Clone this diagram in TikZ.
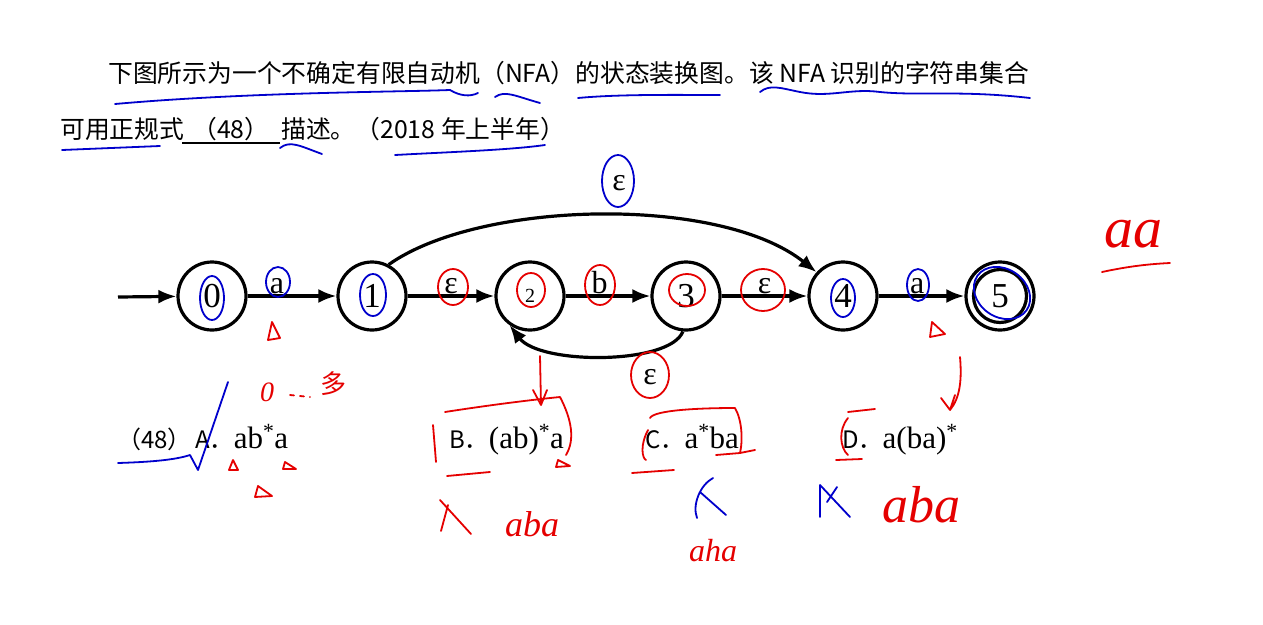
\documentclass[tikz,border=0pt]{standalone}
\usepackage{fontspec}
\setmainfont{Liberation Sans}
\newfontfamily\cjk{Noto Sans CJK SC}
\newfontfamily\serif{Liberation Serif}
\usetikzlibrary{arrows.meta}

\tikzset{
  state/.style={circle,draw,line width=3.2pt,minimum size=68pt,inner sep=0pt,
    font=\serif\fontsize{35}{35}\selectfont},
  edge/.style={line width=3.2pt,-{Latex[length=18pt,width=14pt]}},
  lab/.style={font=\serif\fontsize{32}{32}\selectfont,inner sep=1pt},
  qtext/.style={anchor=base west,inner sep=0pt,font=\cjk\fontsize{24.8}{24.8}\selectfont},
  opt/.style={anchor=base west,inner sep=0pt,font=\cjk\fontsize{24}{24}\selectfont},
  blueink/.style={blue!80!black,line width=1.8pt,line cap=round,line join=round},
  redink/.style={red!90!black,line width=1.8pt,line cap=round,line join=round},
  hand/.style={text=red!90!black,inner sep=0pt,font=\serif\itshape\fontsize{#1}{#1}\selectfont},
}
\newcommand\regex[1]{{\serif\fontsize{31}{31}\selectfont #1}}

\begin{document}
\begin{tikzpicture}[x=1pt,y=-1pt]
\useasboundingbox[fill=white] (0,0) rectangle (1263,624);

% question text
\node[qtext] (line1) at (108,82)
  {下图所示为一个不确定有限自动机（NFA）的状态装换图。该 NFA 识别的字符串集合};
\node[qtext] (line2) at (60,138) {可用正规式};
\node[qtext] (blank) at (192,138) {（48）};
\node[qtext] (line2b) at (281,138) {描述。（2018 年上半年）};
\draw[line width=1.3pt] (182,143) -- (280,143);

% the automaton
\node[state] (s0) at (212,296) {0};
\node[state] (s1) at (372,296) {1};
\node[state,font=\serif\fontsize{20}{20}\selectfont] (s2) at (530,296) {2};
\node[state] (s3) at (686,296) {3};
\node[state] (s4) at (843,296) {4};
\node[state] (s5) at (1000,296) {5};
\draw[line width=3.2pt] (s5.center) circle (26.5);
\coordinate (start) at (118,297);

\draw[edge] (start) -- (s0);
\draw[edge] (s0) -- node[lab,above,pos=0.33] {a} (s1);
\draw[edge] (s1) -- node[lab,above] {ε} (s2);
\draw[edge] (s2) -- node[lab,above,pos=0.4] {b} (s3);
\draw[edge] (s3) -- node[lab,above] {ε} (s4);
\draw[edge] (s4) -- node[lab,above,pos=0.45] {a} (s5);
\draw[edge] (s1.62) .. controls (480,200) and (720,195) .. (s4.138);
\node[lab] (eps1) at (619,183) {ε};
\draw[edge] (s3.265) .. controls (670,365) and (540,365) .. (s2.235);
\node[lab] (eps2) at (650,377) {ε};

% answer choices
\node[opt] (q48) at (117,448) {（48）};
\node[opt] (optA) at (195,448) {A．\regex{ab\textsuperscript{*}a}};
\node[opt] (optB) at (449,448) {B．\regex{(ab)\textsuperscript{*}a}};
\node[opt] (optC) at (645,448) {C．\regex{a\textsuperscript{*}ba}};
\node[opt] (optD) at (842,448) {D．\regex{a(ba)\textsuperscript{*}}};

% blue pen marks
\draw[blueink] (115,104) .. controls (250,92) and (400,92) .. (450,90) .. controls (460,96) and (470,97) .. (478,93);
\draw[blueink] (495,97) .. controls (505,90) and (515,96) .. (540,103);
\draw[blueink] (578,98) .. controls (620,94) and (680,95) .. (720,95);
\draw[blueink] (760,92) .. controls (770,84) and (780,88) .. (800,92)
  .. controls (830,98) and (850,88) .. (880,92) .. controls (920,96) and (960,90) .. (1030,98);
\draw[blueink] (62,150) -- (160,146);
\draw[blueink] (280,148) .. controls (290,140) and (300,146) .. (322,154);
\draw[blueink] (395,155) .. controls (450,152) and (510,150) .. (545,145);
\draw[blueink] (212,298) ellipse (12 and 22);
\draw[blueink] (278,282) ellipse (12 and 15);
\draw[blueink] (373,295) ellipse (13 and 21);
\draw[blueink] (843,298) ellipse (12 and 19);
\draw[blueink] (918,285) ellipse (11 and 16);
\draw[blueink,rotate around={-35:(1002,293)}] (1002,293) ellipse (30 and 24);
\draw[blueink] (618,181) ellipse (16 and 26);
\draw[blueink] (118,463) .. controls (150,462) and (175,460) .. (190,455) -- (198,470) -- (228,382);
\draw[blueink] (713,478) .. controls (700,485) and (692,505) .. (697,518) (700,492) -- (726,515);
\draw[blueink] (820,485) -- (820,517) (820,485) -- (850,517) (837,487) -- (827,502);

% red pen marks
\draw[redink] (453,287) ellipse (15 and 18);
\draw[redink] (531,290) ellipse (14 and 17);
\draw[redink] (600,285) ellipse (15 and 20);
\draw[redink] (687,290) ellipse (18 and 16);
\draw[redink] (763,290) ellipse (22 and 21);
\draw[redink] (650,375) ellipse (19 and 23);
\draw[redink] (272,322) -- (280,338) -- (268,340) -- cycle;
\draw[redink] (932,322) -- (945,334) -- (930,337) -- cycle;
\draw[redink] (233,460) -- (238,470) -- (229,470) -- cycle;
\draw[redink] (285,462) -- (296,469) -- (283,469) -- cycle;
\draw[redink] (258,486) -- (272,496) -- (255,497) -- cycle;
\draw[redink] (558,460) -- (570,466) -- (556,467) -- cycle;
\node[hand=28] (zero) at (267,392) {0};
\draw[redink,dash pattern=on 4pt off 6pt] (290,395) -- (310,397);
\node[text=red!90!black,inner sep=0pt,font=\cjk\fontsize{26}{26}\selectfont] (many) at (333,384) {多};
\draw[redink] (540,356) -- (541,405) (533,390) -- (541,405) -- (547,390);
\draw[redink] (960,357) .. controls (962,380) and (960,398) .. (950,410) (941,398) -- (950,410) -- (955,395);
\draw[redink] (445,412) .. controls (490,405) and (530,400) .. (560,397) .. controls (572,420) and (575,440) .. (566,455);
\draw[redink] (433,425) -- (436,462);
\draw[redink] (447,476) -- (490,472);
\draw[redink] (650,418) .. controls (654,410) and (700,408) .. (735,408) .. controls (742,420) and (743,440) .. (740,453) -- (755,450);
\draw[redink] (648,430) .. controls (640,445) and (642,458) .. (646,460);
\draw[redink] (632,473) -- (674,470);
\draw[redink] (716,455) -- (740,453);
\draw[redink] (848,418) .. controls (838,430) and (840,448) .. (848,455);
\draw[redink] (848,412) -- (875,409);
\draw[redink] (836,460) -- (862,459);
\draw[redink] (440,500) -- (471,534) (441,531) -- (448,505);
\node[hand=36] (abaB) at (532,524) {aba};
\node[hand=32] (abaC) at (713,551) {aha};
\node[hand=52] (abaD) at (921,505) {aba};
\node[hand=58] (aa) at (1133,234) {aa};
\draw[redink] (1102,272) .. controls (1130,266) and (1150,264) .. (1170,263);
\end{tikzpicture}
\end{document}
